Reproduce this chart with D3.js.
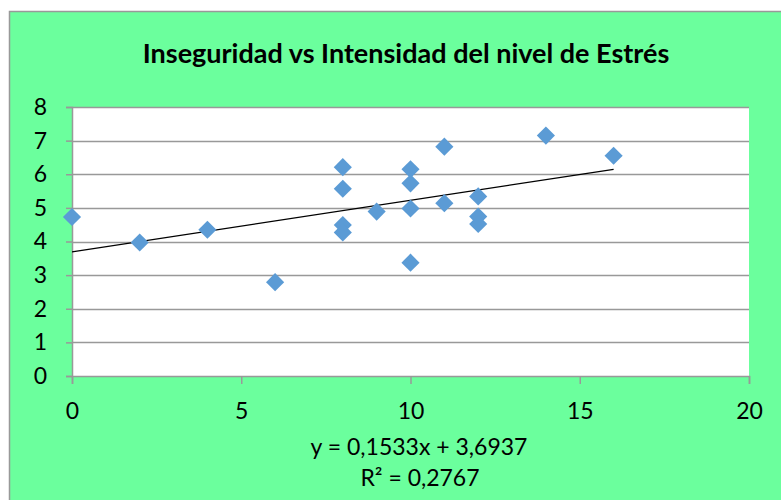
<!DOCTYPE html>
<html>
<head>
<meta charset="utf-8">
<script src="https://cdn.jsdelivr.net/npm/d3@7"></script>
<style>
  body { margin: 0; background: #fff; }
  svg text { font-family: Lato, "Open Sans", sans-serif; fill: #000; }
</style>
</head>
<body>
<div id="chart"></div>
<script>
// inseguridad (x) vs intensidad del estres (y)
var xVals = [0, 2, 4, 6, 8, 8, 8, 8, 9, 10, 10, 10, 10, 11, 11, 12, 12, 12, 14, 16];
var yVals = [4.73, 3.97, 4.35, 2.79, 6.21, 5.57, 4.49, 4.27, 4.89, 6.15, 5.73, 4.98, 3.37, 6.82, 5.14, 5.34, 4.74, 4.52, 7.15, 6.55];
var xTicks = [0, 5, 10, 15, 20];
var yTicks = [0, 1, 2, 3, 4, 5, 6, 7, 8];
var trendSlope = 0.1533, trendIntercept = 3.6937, trendR2 = 0.2767;
var trendRange = [0, 16];

var W = 781, H = 500;
var margin = {top: 107, right: 32, bottom: 124, left: 72},
    width = W - margin.left - margin.right,
    height = H - margin.top - margin.bottom;

var svg = d3.select("#chart").append("svg")
    .attr("width", W)
    .attr("height", H);

// chart area
svg.append("rect")
    .attr("x", 9.5).attr("y", 11.5)
    .attr("width", W).attr("height", H)
    .attr("fill", "#6bff9d")
    .attr("stroke", "#999").attr("stroke-width", 1.5);

svg.append("text")
    .attr("x", 406).attr("y", 63)
    .attr("text-anchor", "middle")
    .style("font-size", "27px").style("font-weight", "bold")
    .text("Inseguridad vs Intensidad del nivel de Estrés");

var g = svg.append("g")
    .attr("transform", "translate(" + margin.left + "," + margin.top + ")");

var x = d3.scaleLinear().domain([0, 20]).range([0, width]);
var y = d3.scaleLinear().domain([0, 8]).range([height, 0]);

g.append("rect")
    .attr("width", width).attr("height", height)
    .attr("fill", "#fff");

// gridlines
g.append("g")
  .selectAll("line")
  .data(yTicks.filter(function(d){ return d > 0; }))
  .enter().append("line")
  .attr("x1", 0).attr("x2", width)
  .attr("y1", function(d){ return Math.round(y(d)) + 0.5; })
  .attr("y2", function(d){ return Math.round(y(d)) + 0.5; })
  .attr("stroke", "#999").attr("stroke-width", 1.3);

var yAxis = g.append("g")
    .call(d3.axisLeft(y).tickValues(yTicks).tickSize(6).tickPadding(19).tickFormat(d3.format("d")));
var xAxis = g.append("g")
    .attr("transform", "translate(0," + height + ")")
    .call(d3.axisBottom(x).tickValues(xTicks).tickSize(8).tickPadding(19).tickFormat(d3.format("d")));

[yAxis, xAxis].forEach(function(a){
  a.select(".domain").attr("stroke", "#999").attr("stroke-width", 1.5);
  a.selectAll(".tick line").attr("stroke", "#999").attr("stroke-width", 1.5);
  a.selectAll(".tick text").style("font-size", "23px").attr("fill", "#000");
});

// trend line
g.append("line")
    .attr("x1", x(trendRange[0])).attr("y1", y(trendIntercept + trendSlope * trendRange[0]))
    .attr("x2", x(trendRange[1])).attr("y2", y(trendIntercept + trendSlope * trendRange[1]))
    .attr("stroke", "#000").attr("stroke-width", 1.2);

// diamonds
var sym = d3.symbol().type(d3.symbolDiamond2).size(210);
g.selectAll(".pt")
  .data(xVals)
  .enter().append("path")
  .attr("class", "pt")
  .attr("transform", function(d, i){ return "translate(" + x(d) + "," + y(yVals[i]) + ")"; })
  .attr("d", sym)
  .attr("fill", "#5b9bd5");

var fmt = function(v){ return String(v).replace(".", ","); };
svg.append("text")
    .attr("x", 419).attr("y", 455)
    .attr("text-anchor", "middle")
    .style("font-size", "23px")
    .text("y = " + fmt(trendSlope) + "x + " + fmt(trendIntercept));
svg.append("text")
    .attr("x", 420).attr("y", 486)
    .attr("text-anchor", "middle")
    .style("font-size", "23px")
    .text("R² = " + fmt(trendR2));
</script>
</body>
</html>
